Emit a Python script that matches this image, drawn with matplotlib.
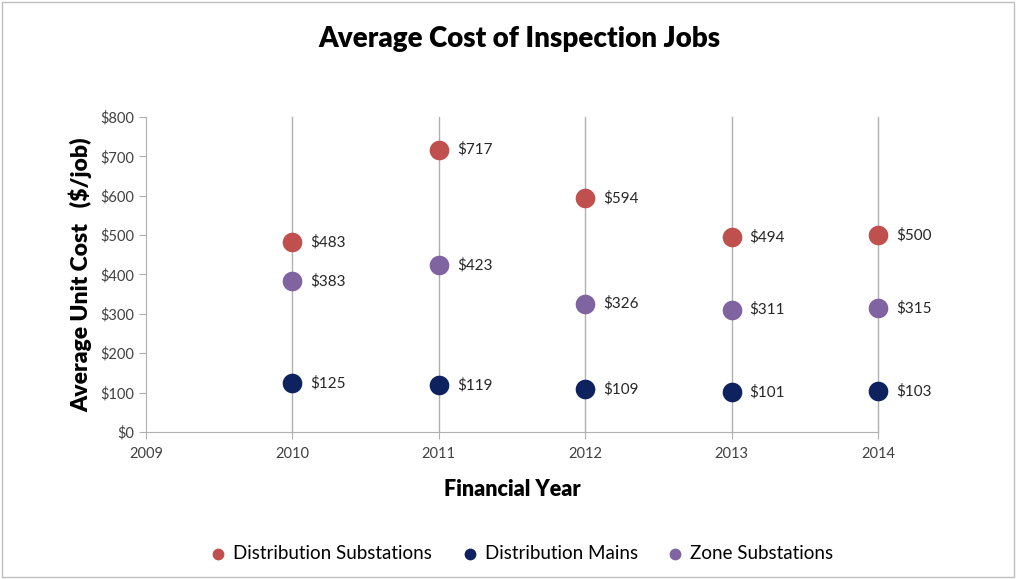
import matplotlib.pyplot as plt
import matplotlib.ticker as mticker
from matplotlib.patches import Rectangle

plt.rcParams['font.family'] = ['Lato', 'DejaVu Sans']

years = [2010, 2011, 2012, 2013, 2014]
dist_substations = [483, 717, 594, 494, 500]
dist_mains = [125, 119, 109, 101, 103]
zone_substations = [383, 423, 326, 311, 315]

series = [
    ('Distribution Substations', dist_substations, '#C0504D'),
    ('Distribution Mains', dist_mains, '#0E2260'),
    ('Zone Substations', zone_substations, '#8064A2'),
]

fig = plt.figure(figsize=(10.16, 5.79), dpi=100)
ax = fig.add_axes([0.1437, 0.2539, 0.7205, 0.5441])

# thin frame around the whole chart area
fig.patches.append(Rectangle((0.002, 0.003), 0.996, 0.994, transform=fig.transFigure,
                             fill=False, edgecolor='#BFBFBF', linewidth=1))

for yr in years:
    ax.axvline(yr, color='#B0B0B0', linewidth=1, zorder=1, clip_on=False)

for name, vals, col in series:
    ax.scatter(years, vals, s=200, color=col, label=name, zorder=3, linewidths=0, clip_on=False)
    for x, v in zip(years, vals):
        ax.annotate('$%d' % v, (x, v), xytext=(13, 0), textcoords='offset points',
                    va='center', ha='left', fontsize=11, color='#262626')

ax.set_xlim(2009, 2014)
ax.set_ylim(0, 800)
ax.set_xticks([2009, 2010, 2011, 2012, 2013, 2014])
ax.set_yticks(range(0, 801, 100))
ax.yaxis.set_major_formatter(mticker.FuncFormatter(lambda v, p: '$%d' % v))
ax.tick_params(axis='both', labelsize=10.5, colors='#595959', labelcolor='#404040')
ax.tick_params(axis='x', length=5, direction='out', color='#B0B0B0', pad=6)
ax.tick_params(axis='y', length=5, direction='out', color='#B0B0B0')

for side in ['top', 'right']:
    ax.spines[side].set_visible(False)
for side in ['left', 'bottom']:
    ax.spines[side].set_color('#B0B0B0')

ax.set_xlabel('Financial Year', fontsize=15.5, fontweight='heavy', labelpad=13)
ax.set_ylabel('Average Unit Cost   ($/job)', fontsize=16.5, fontweight='heavy', labelpad=6)
fig.suptitle('Average Cost of Inspection Jobs', fontsize=20, fontweight='heavy',
             x=0.511, y=0.955)

ax.legend(loc='center', bbox_to_anchor=(0.506, -0.385), ncol=3, frameon=False,
          fontsize=13.5, markerscale=0.6, handletextpad=-0.2, columnspacing=1.0)

fig.savefig('out.png', dpi=100)
